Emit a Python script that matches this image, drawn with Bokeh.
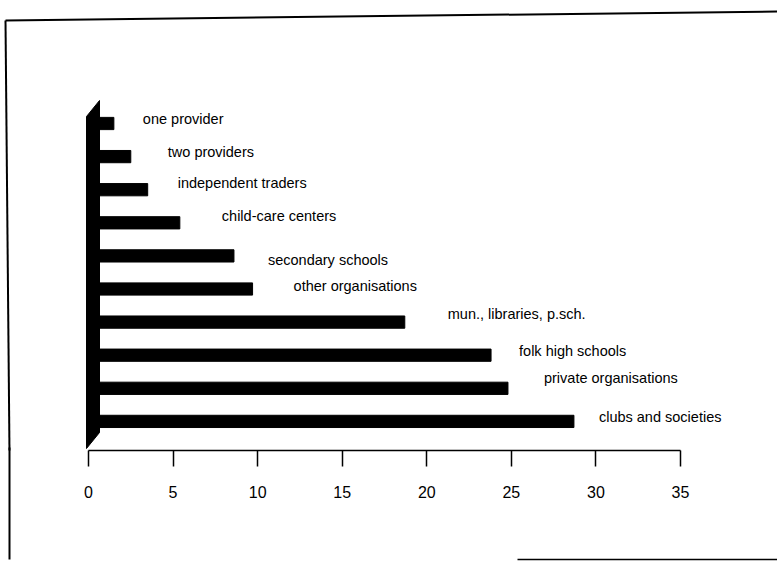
from bokeh.plotting import figure
from bokeh.models import Range1d, FixedTicker, ColumnDataSource, PolyAnnotation, LinearAxis
from bokeh.core.properties import value
from bokeh.embed import file_html
from bokeh.resources import INLINE

# ---------------- data ----------------
categories = [
    "one provider",
    "two providers",
    "independent traders",
    "child-care centers",
    "secondary schools",
    "other organisations",
    "mun.,  libraries, p.sch.",
    "folk high schools",
    "private organisations",
    "clubs and societies",
]
values = [1.5, 2.5, 3.5, 5.4, 8.6, 9.7, 18.7, 23.8, 24.8, 28.7]
x_ticks = [0, 5, 10, 15, 20, 25, 30, 35]

# ---------------- layout constants ----------------
W, H = 777, 564
PPU = 16.914          # pixels per value unit
X0 = 88               # pixel position of value 0
ROW0 = 123            # pixel centre of first row
PITCH = 33.1          # pixels between rows
FRAME_H = 450         # frame height (axis line position)

# per-label pixel nudges (label placement of the original)
label_dx = [29, 37, 30, 42, 34, 41, 43, 28, 36, 25]
label_dy = [-5, -5, -7, -7, 4, -3, -8, -4, -10, -4]

def px_x(px):
    return (px - X0) / PPU

def px_y(py):
    return (py - ROW0) / PITCH

n = len(categories)
rows = list(range(n))

p = figure(
    width=W, height=H,
    x_range=Range1d(px_x(0), px_x(W)),
    y_range=Range1d(px_y(FRAME_H), px_y(0)),
    output_backend="svg", toolbar_location=None,
    x_axis_location="below", y_axis_location=None,
    min_border_left=0, min_border_right=0, min_border_top=0,
    min_border_bottom=H - FRAME_H,
    background_fill_color="white", border_fill_color="white",
)
p.outline_line_color = None
p.xgrid.visible = False
p.ygrid.visible = False

src = ColumnDataSource(dict(y=rows, v=values, cat=categories,
                            dx=label_dx, dy=label_dy))

# bars
p.hbar(y="y", left=0, right="v", height=0.37, source=src,
       fill_color="black", line_color="black")

# 3-D back wall
wx, wdx = px_x(86), 13 / PPU
top, bot, wdy = px_y(116), px_y(448), -16 / PITCH
p.patch([wx, wx + wdx, wx + wdx, wx], [top, top + wdy, bot + wdy, bot],
        fill_color="black", line_color="black")

# labels
p.text(x="v", y="y", text="cat", source=src, x_offset="dx", y_offset="dy",
       text_font=value("Liberation Sans"), text_font_size="14.5px",
       text_color="black", text_baseline="middle", text_align="left")

# x axis
ax = p.xaxis[0]
ax.ticker = FixedTicker(ticks=x_ticks)
ax.bounds = (x_ticks[0], x_ticks[-1])
ax.axis_line_color = "black"
ax.axis_line_width = 1.5
ax.major_tick_line_color = "black"
ax.major_tick_line_width = 1.5
ax.major_tick_out = 16
ax.major_tick_in = 0
ax.minor_tick_line_color = None
ax.minor_tick_out = 0
ax.major_label_standoff = 19
ax.major_label_text_font = "Liberation Sans"
ax.major_label_text_font_size = "16px"
ax.major_label_text_color = "black"
# invisible axis label only used to reserve space below the tick labels
ax.axis_label = " "
ax.axis_label_standoff = 40
ax.axis_label_text_font_size = "14px"

# scanned page border: lower-left edge and bottom edge (below the frame)
edge = LinearAxis(ticker=FixedTicker(ticks=[px_x(9)]),
                  bounds=(px_x(9), px_x(777)))
edge.axis_line_color = "black"
edge.axis_line_width = 1.5
edge.axis_line_dash = "0 508 400"
edge.major_tick_line_color = "black"
edge.major_tick_line_width = 2
edge.major_tick_in = 112
edge.major_tick_out = 0
edge.minor_tick_line_color = None
edge.minor_tick_in = 0
edge.minor_tick_out = 0
edge.major_label_standoff = 0
edge.major_label_text_font_size = "0px"
edge.major_label_text_alpha = 0
p.add_layout(edge, "below")

# scanned page border inside the frame area
for xs, ys in [
    ([px_x(5), px_x(9)], [px_y(20), px_y(452)]),
    ([px_x(5), px_x(777)], [px_y(20), px_y(11)]),
]:
    p.add_layout(PolyAnnotation(xs=xs, ys=ys, line_color="black",
                                line_alpha=1, line_width=2, fill_alpha=0))

open("out.html", "w").write(file_html(p, INLINE))
